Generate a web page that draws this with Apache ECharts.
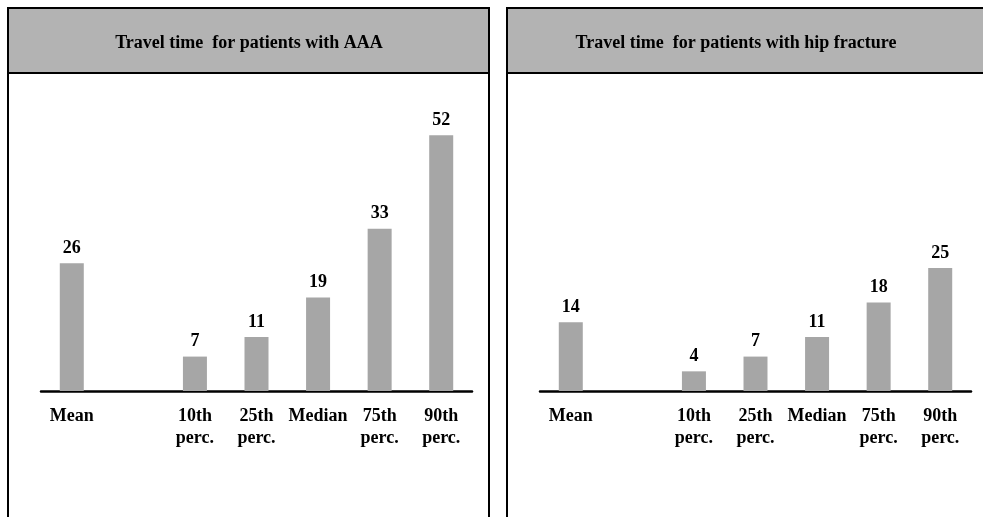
<!DOCTYPE html>
<html>
<head>
<meta charset="utf-8">
<script src="https://cdn.jsdelivr.net/npm/echarts@6/dist/echarts.min.js"></script>
<style>
html,body{margin:0;padding:0;background:#fff;}
#c{width:983px;height:517px;}
</style>
</head>
<body>
<div id="c"></div>
<script>
var categories = ['Mean', '', '10th\nperc.', '25th\nperc.', 'Median', '75th\nperc.', '90th\nperc.'];
var aaaValues = [26, null, 7, 11, 19, 33, 52];
var hipValues = [14, null, 4, 7, 11, 18, 25];
var titleAAA = 'Travel time  for patients with AAA';
var titleHip = 'Travel time  for patients with hip fracture';

var FONT = '"Liberation Serif", "Times New Roman", serif';
var chart = echarts.init(document.getElementById('c'));

function xAxis(idx) {
  return {
    type: 'category', gridIndex: idx, data: categories,
    axisLine: { show: true, lineStyle: { color: '#000', width: 2.5 } },
    axisTick: { show: false },
    axisLabel: { interval: 0, margin: 14, color: '#000', fontFamily: FONT, fontWeight: 'bold', fontSize: 18, lineHeight: 22 }
  };
}
function yAxis(idx) {
  return { type: 'value', gridIndex: idx, min: 0, max: 60, show: false, splitLine: { show: false } };
}
function series(idx, data) {
  return {
    type: 'bar', xAxisIndex: idx, yAxisIndex: idx, data: data, barWidth: 24,
    itemStyle: { color: '#a6a6a6' },
    label: { show: true, position: 'top', distance: 6, color: '#000', fontFamily: FONT, fontWeight: 'bold', fontSize: 18 }
  };
}

chart.setOption({
  animation: false,
  backgroundColor: '#fff',
  grid: [
    { left: 41, width: 431, top: 96, height: 295 },
    { left: 540, width: 431, top: 96, height: 295 }
  ],
  xAxis: [xAxis(0), xAxis(1)],
  yAxis: [yAxis(0), yAxis(1)],
  series: [series(0, aaaValues), series(1, hipValues)],
  graphic: [
    { type: 'rect', z: -10, shape: { x: 8, y: 8, width: 481, height: 530 }, style: { fill: '#fff', stroke: '#000', lineWidth: 2 } },
    { type: 'rect', z: -9, shape: { x: 8, y: 8, width: 481, height: 65 }, style: { fill: '#b3b3b3', stroke: '#000', lineWidth: 2 } },
    { type: 'rect', z: -10, shape: { x: 507, y: 8, width: 500, height: 530 }, style: { fill: '#fff', stroke: '#000', lineWidth: 2 } },
    { type: 'rect', z: -9, shape: { x: 507, y: 8, width: 500, height: 65 }, style: { fill: '#b3b3b3', stroke: '#000', lineWidth: 2 } },
    { type: 'text', z: 5, x: 249, y: 43, style: { text: titleAAA, fill: '#000', font: 'bold 18px ' + FONT, textAlign: 'center', textVerticalAlign: 'middle' } },
    { type: 'text', z: 5, x: 736, y: 43, style: { text: titleHip, fill: '#000', font: 'bold 18px ' + FONT, textAlign: 'center', textVerticalAlign: 'middle' } }
  ]
});
</script>
</body>
</html>
